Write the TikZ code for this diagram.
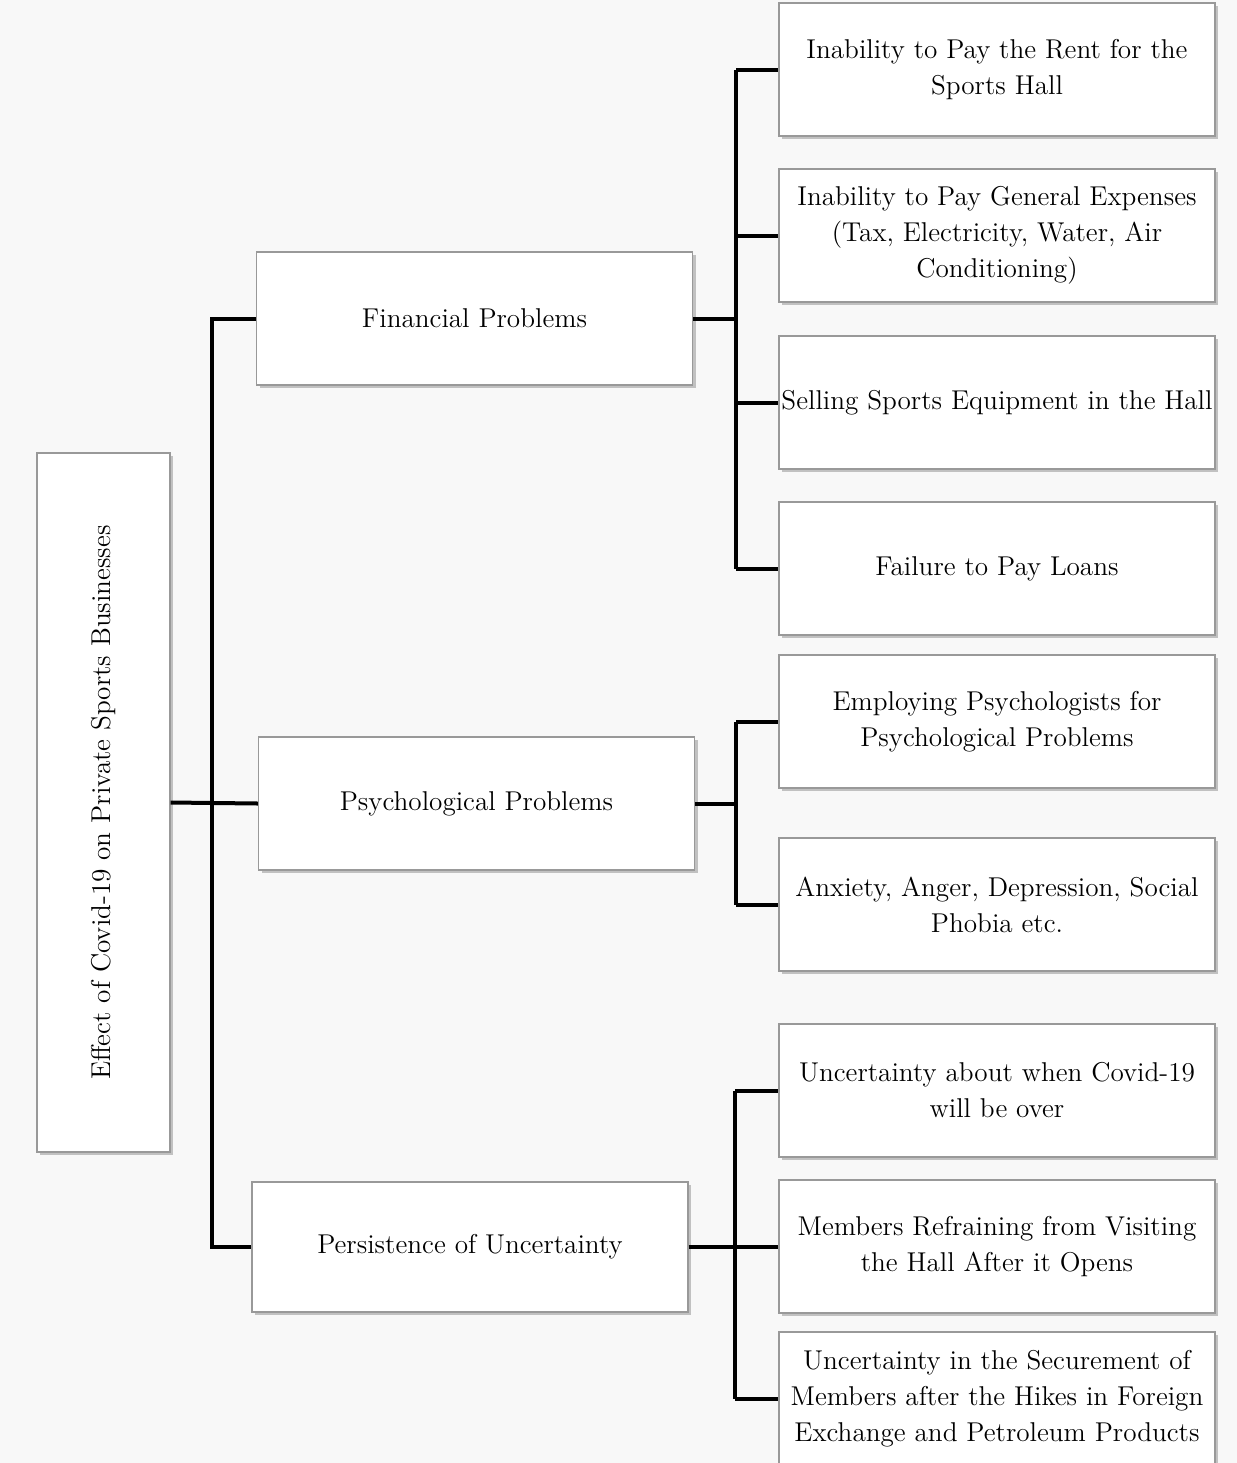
\documentclass[tikz,border=0pt]{standalone}
\usepackage{graphicx}
\usetikzlibrary{shadows}
\definecolor{pagegray}{HTML}{F8F8F8}
\begin{document}
\begin{tikzpicture}[
      x=0.5pt, y=-0.5pt,
      box/.style={rectangle, draw=gray!80, line width=0.6pt, fill=white,
                  align=center, inner sep=0pt,
                  font=\fontsize{13.6}{18}\selectfont,
                  drop shadow={shadow xshift=1.5pt, shadow yshift=-1.5pt,
                               fill=black!45, opacity=0.5}},
      groupbox/.style={box, minimum width=218pt, minimum height=66.5pt},
      itembox/.style={box, minimum width=218pt, minimum height=66.5pt},
      bond/.style={draw=black, line width=2pt, line join=miter}
    ]

    % page background
    \useasboundingbox[fill=pagegray] (0,0) rectangle (1237,1463);

    %-----------------------------
    % Root
    %-----------------------------
    \node[box, minimum width=66.5pt, minimum height=349.5pt] (root) at (103.5,802.5)
      {\rotatebox{90}{Effect of Covid-19 on Private Sports Businesses}};

    %-----------------------------
    % Groups
    %-----------------------------
    \node[groupbox] (fin) at (474.5,318.5) {Financial Problems};
    \node[groupbox] (psy) at (476.5,803.5) {Psychological Problems};
    \node[groupbox, minimum height=65pt] (unc) at (470,1247) {Persistence of Uncertainty};

    % trunk
    \coordinate (trunk) at (212,803);
    \draw[bond] (root.east) -- (psy.west);
    \draw[bond] (fin.west) -| (trunk) |- (unc.west);

    %-----------------------------
    % 1) Financial problems
    %-----------------------------
    \foreach \i/\y/\txt in {
        1/69.5/{Inability to Pay the Rent for the\\Sports Hall},
        2/235.5/{Inability to Pay General Expenses\\(Tax, Electricity, Water, Air\\Conditioning)},
        3/402.5/{Selling Sports Equipment in the Hall},
        4/568.5/{Failure to Pay Loans}} {
      \node[itembox] (fin-\i) at (997,\y) {\txt};
    }
    \coordinate (finbus) at (736,318.5);
    \draw[bond] (fin.east) -- (finbus);
    \draw[bond] (finbus |- fin-1.west) -- (finbus |- fin-4.west);
    \foreach \i in {1,...,4} {
      \draw[bond] (finbus |- fin-\i.west) -- (fin-\i.west);
    }

    %-----------------------------
    % 2) Psychological problems
    %-----------------------------
    \foreach \i/\y/\txt in {
        1/721.5/{Employing Psychologists for\\Psychological Problems},
        2/904.5/{Anxiety, Anger, Depression, Social\\Phobia etc.}} {
      \node[itembox] (psy-\i) at (997,\y) {\txt};
    }
    \coordinate (psybus) at (736,803.5);
    \draw[bond] (psy.east) -- (psybus);
    \draw[bond] (psybus |- psy-1.west) -- (psybus |- psy-2.west);
    \foreach \i in {1,2} {
      \draw[bond] (psybus |- psy-\i.west) -- (psy-\i.west);
    }

    %-----------------------------
    % 3) Persistence of uncertainty
    %-----------------------------
    \foreach \i/\y/\txt in {
        1/1090.5/{Uncertainty about when Covid-19\\will be over},
        2/1246.5/{Members Refraining from Visiting\\the Hall After it Opens},
        3/1398.5/{Uncertainty in the Securement of\\Members after the Hikes in Foreign\\Exchange and Petroleum Products}} {
      \node[itembox] (unc-\i) at (997,\y) {\txt};
    }
    \coordinate (uncbus) at (735,1247);
    \draw[bond] (unc.east) -- (uncbus);
    \draw[bond] (uncbus |- unc-1.west) -- (uncbus |- unc-3.west);
    \foreach \i in {1,2,3} {
      \draw[bond] (uncbus |- unc-\i.west) -- (unc-\i.west);
    }

  \end{tikzpicture}
\end{document}
